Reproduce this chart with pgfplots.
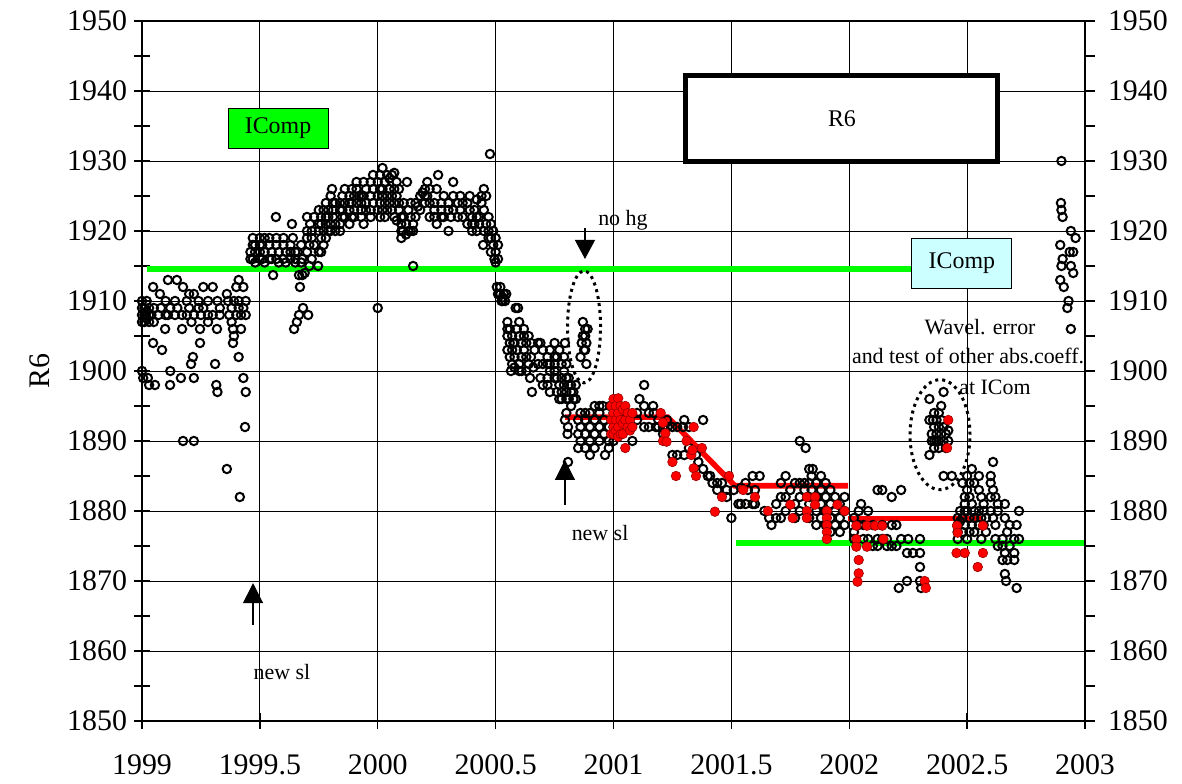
\documentclass[border=0pt]{standalone}
\usepackage{fontspec}
\setmainfont{Liberation Serif}
\usepackage{pgfplots}
\pgfplotsset{compat=1.18}
\usetikzlibrary{arrows.meta}
\definecolor{xgreen}{RGB}{0,255,0}
\definecolor{xcyan}{RGB}{204,255,255}
\definecolor{xred}{RGB}{255,0,0}
\newcommand{\tickfont}{\fontsize{15}{18}\selectfont}
\newcommand{\annfont}{\fontsize{11}{13}\selectfont}
\begin{document}
\begin{tikzpicture}
\path[use as bounding box] (0,0) rectangle (591bp,392bp);
\begin{axis}[
  at={(71bp,31.5bp)}, anchor=south west,
  scale only axis, width=471.5bp, height=350bp,
  xmin=1999, xmax=2003, ymin=1850, ymax=1950,
  xtick={1999,1999.5,2000,2000.5,2001,2001.5,2002,2002.5,2003},
  xticklabels={1999,1999.5,2000,2000.5,2001,2001.5,2002,2002.5,2003},
  ytick={1850,1860,1870,1880,1890,1900,1910,1920,1930,1940,1950},
  minor ytick={1855,1865,1875,1885,1895,1905,1915,1925,1935,1945},
  grid=major, major grid style={black, line width=0.45bp},
  axis line style={line width=1bp},
  tick align=center, major tick length=8bp, minor tick length=8bp,
  tick style={black, line width=0.7bp},
  xtick pos=left, ytick pos=left,
  ticklabel style={font=\tickfont},
  xticklabel style={yshift=-9.5bp},
  /pgf/number format/1000 sep={},
  /pgf/number format/assume math mode=true,
  ylabel={R6},
  ylabel style={font=\tickfont, at={(axis description cs:-0.108,0.5)}, anchor=center},
  clip=false,
]
% black open circles
\addplot[only marks, mark=o, mark size=2.1bp, black, line width=1bp] coordinates {
(1999.00,1907)(1999.00,1908)(1999.00,1909)(1999.00,1910)(1999.00,1900)(1999.005,1899)
(1999.01,1907)(1999.01,1908)(1999.01,1909)(1999.02,1907.5)(1999.02,1908.5)(1999.02,1910)(1999.025,1899)(1999.03,1898)
(1999.03,1907)(1999.03,1908)(1999.03,1909)(1999.04,1908)(1999.047,1912)(1999.047,1904)
(1999.05,1907)(1999.05,1909)(1999.055,1898)(1999.07,1908)(1999.076,1911)(1999.085,1903)
(1999.08,1909)(1999.11,1913)(1999.10,1908)(1999.098,1906)(1999.10,1910)(1999.12,1900)
(1999.11,1908)(1999.119,1898)(1999.12,1909)(1999.148,1913)(1999.14,1908)(1999.14,1910)
(1999.165,1899)(1999.15,1909)(1999.174,1912)(1999.17,1908)(1999.17,1906)(1999.174,1890)
(1999.19,1910)(1999.19,1908)(1999.20,1911)(1999.20,1909)(1999.216,1902)(1999.208,1901)
(1999.21,1907)(1999.22,1911)(1999.22,1908)(1999.22,1899)(1999.22,1890)(1999.24,1910)
(1999.24,1909)(1999.246,1906)(1999.246,1904)(1999.25,1908)(1999.26,1912)(1999.26,1909)
(1999.28,1910)(1999.28,1908)(1999.28,1907)(1999.30,1912)(1999.30,1908)(1999.318,1906)
(1999.31,1901)(1999.315,1898)(1999.32,1897)(1999.32,1910)(1999.33,1908)(1999.33,1909)
(1999.36,1911)(1999.365,1910)(1999.36,1886)(1999.37,1908)(1999.386,1906)(1999.386,1904)
(1999.38,1909)(1999.38,1907)(1999.39,1905)(1999.39,1910)(1999.41,1913)(1999.41,1902)
(1999.40,1912)(1999.40,1908)(1999.415,1882)(1999.41,1910)(1999.41,1909)(1999.42,1906)
(1999.43,1912)(1999.42,1908)(1999.43,1899)(1999.43,1909)(1999.44,1897)(1999.44,1910)
(1999.44,1908)(1999.437,1892)
(1999.46,1916)(1999.46,1917)(1999.47,1916)(1999.47,1918)(1999.47,1919)(1999.48,1915.5)
(1999.48,1917)(1999.48,1918)(1999.50,1916)(1999.50,1917)(1999.50,1919)(1999.50,1918)
(1999.51,1916)(1999.51,1918)(1999.52,1917)(1999.52,1919)(1999.52,1915.5)(1999.54,1916)
(1999.54,1918)(1999.54,1919)(1999.55,1917)(1999.556,1913.7)(1999.55,1916)(1999.57,1918)
(1999.57,1916)(1999.568,1922)(1999.57,1919)(1999.58,1917)(1999.58,1915.5)(1999.60,1916)
(1999.60,1918)(1999.60,1919)(1999.61,1917)(1999.61,1915.5)(1999.63,1918)(1999.63,1916)
(1999.636,1921)(1999.63,1917)(1999.64,1919)(1999.645,1906)(1999.65,1915.5)(1999.65,1916)
(1999.657,1907)(1999.65,1917)(1999.66,1917)(1999.666,1913.7)(1999.67,1912)(1999.666,1908)
(1999.675,1915.5)(1999.675,1918)(1999.68,1913.7)(1999.68,1916)(1999.683,1909)(1999.69,1914)
(1999.70,1922)(1999.70,1917)(1999.705,1908)(1999.70,1919)(1999.70,1920)(1999.71,1915)
(1999.71,1918)(1999.713,1921)(1999.72,1916)(1999.72,1919)(1999.72,1920)(1999.73,1918)
(1999.73,1922)(1999.747,1915)(1999.75,1917)(1999.75,1920)(1999.75,1921)(1999.75,1923)
(1999.76,1917)(1999.76,1919)(1999.76,1921)(1999.76,1922)(1999.77,1918)(1999.77,1920)
(1999.77,1923)(1999.78,1919)(1999.78,1921)(1999.78,1922)(1999.78,1924)(1999.79,1920)
(1999.79,1922)(1999.79,1923)(1999.80,1920)(1999.80,1921)(1999.80,1925)(1999.806,1926)
(1999.81,1922)(1999.81,1923)(1999.81,1924)(1999.82,1921)(1999.82,1920)(1999.82,1924)
(1999.84,1923)(1999.84,1924)(1999.84,1920)(1999.84,1921)(1999.85,1922)(1999.85,1923)
(1999.85,1925)(1999.86,1924)(1999.86,1926)(1999.86,1922)(1999.88,1923)(1999.88,1925)
(1999.88,1924)(1999.88,1921)(1999.89,1922)(1999.89,1924)(1999.89,1926)(1999.90,1923)
(1999.90,1925)(1999.91,1927)(1999.90,1922)(1999.91,1924)(1999.91,1926)(1999.92,1925)
(1999.93,1922)(1999.93,1923)(1999.93,1925)(1999.93,1924)(1999.94,1925)(1999.94,1927)
(1999.94,1921)(1999.95,1923)(1999.95,1926)(1999.95,1924)(1999.97,1922)(1999.97,1925)
(1999.97,1927)(1999.97,1923)(1999.98,1924)(1999.98,1926)(1999.98,1928)(2000.00,1909)
(2000.00,1923)(2000.00,1925)(2000.00,1927)(2000.01,1922)(2000.01,1924)(2000.01,1926)
(2000.01,1928)(2000.02,1929)(2000.02,1926)(2000.02,1923)(2000.02,1925)(2000.03,1924)
(2000.03,1927)(2000.03,1922)(2000.04,1925)(2000.04,1928)(2000.04,1923)(2000.05,1926)
(2000.05,1924)(2000.05,1927.5)(2000.06,1923)(2000.06,1925)(2000.06,1928)(2000.07,1928.3)
(2000.07,1926)(2000.07,1924)(2000.07,1922)(2000.08,1927)(2000.08,1925)(2000.08,1921.5)
(2000.09,1926)(2000.09,1924)(2000.09,1923)(2000.10,1920)(2000.10,1921)(2000.10,1919)
(2000.107,1920)(2000.10,1922)(2000.11,1922)(2000.11,1924)(2000.124,1927)(2000.12,1921)
(2000.12,1919.5)(2000.13,1920)(2000.13,1923)(2000.14,1920)(2000.14,1924)(2000.14,1922)
(2000.15,1915)(2000.15,1920)(2000.15,1921)(2000.16,1924)(2000.16,1922)(2000.17,1923.5)
(2000.18,1923)(2000.18,1925)(2000.19,1925.5)(2000.20,1925)(2000.20,1926)(2000.20,1924)
(2000.21,1927)(2000.21,1925)(2000.22,1924)(2000.22,1926)(2000.22,1922)(2000.24,1923)
(2000.24,1924)(2000.24,1922)(2000.256,1928)(2000.25,1926)(2000.25,1921)(2000.27,1924)
(2000.27,1922)(2000.27,1923)(2000.28,1922)(2000.28,1925)(2000.30,1920)(2000.30,1923)
(2000.30,1924)(2000.31,1922)(2000.32,1927)(2000.32,1923)(2000.32,1925)(2000.34,1924)
(2000.34,1922)(2000.35,1923)(2000.35,1925)(2000.36,1922)(2000.36,1924)(2000.38,1924)
(2000.38,1921)(2000.39,1923)(2000.39,1925)(2000.40,1921)(2000.40,1920)(2000.40,1922)
(2000.41,1923)(2000.41,1921)(2000.42,1920)(2000.42,1922)(2000.42,1924.5)(2000.43,1922)
(2000.43,1921)(2000.44,1925)(2000.44,1924)(2000.447,1918)(2000.45,1926)(2000.45,1923)
(2000.45,1920)(2000.476,1931)(2000.46,1925)(2000.46,1921)(2000.47,1920)(2000.47,1919)
(2000.47,1922)(2000.48,1919)(2000.48,1921)(2000.48,1917)(2000.49,1920)(2000.49,1918)
(2000.495,1916)(2000.50,1917)(2000.50,1919)(2000.50,1915.5)(2000.52,1912)(2000.51,1918)
(2000.51,1916)(2000.51,1911)(2000.505,1912)(2000.52,1911)(2000.525,1910)(2000.53,1910.5)
(2000.535,1911)(2000.53,1910)(2000.54,1910)(2000.545,1911)
(2000.55,1907)(2000.55,1906)(2000.55,1905)(2000.55,1903)(2000.56,1906)(2000.56,1904)
(2000.56,1902)(2000.565,1900)(2000.57,1905)(2000.57,1903)(2000.57,1901)(2000.575,1904)
(2000.58,1904)(2000.58,1902)(2000.58,1900.5)(2000.585,1909)(2000.595,1909)(2000.59,1906)
(2000.59,1903)(2000.60,1907)(2000.60,1905)(2000.60,1900)(2000.60,1901)(2000.61,1904)
(2000.61,1902)(2000.61,1900)(2000.62,1906)(2000.62,1903)(2000.62,1905)(2000.63,1904)
(2000.63,1900)(2000.63,1902)(2000.64,1905)(2000.646,1899)(2000.64,1901)(2000.654,1897)
(2000.65,1904)(2000.65,1902)(2000.66,1900.5)(2000.665,1903)(2000.68,1904)(2000.68,1901)
(2000.69,1904)(2000.69,1899)(2000.70,1901)(2000.70,1903)(2000.70,1898)(2000.72,1901)
(2000.72,1899)(2000.72,1902)(2000.72,1898)(2000.73,1901)(2000.73,1900)(2000.73,1903)
(2000.73,1897)(2000.75,1901)(2000.75,1900)(2000.75,1902)(2000.75,1899)(2000.75,1904)
(2000.76,1902)(2000.76,1899)(2000.76,1897)(2000.77,1903)(2000.77,1898)(2000.77,1896)
(2000.78,1899)(2000.78,1901)(2000.78,1897)(2000.78,1896)(2000.794,1904)(2000.79,1902)
(2000.79,1900)(2000.79,1898)(2000.80,1901)(2000.80,1897)(2000.80,1899)(2000.80,1896)
(2000.80,1894)(2000.794,1893)(2000.81,1899)(2000.81,1898)(2000.81,1896)(2000.807,1892)
(2000.807,1887)(2000.805,1891)(2000.82,1898)(2000.82,1897)(2000.82,1895)(2000.83,1897)
(2000.83,1896)(2000.84,1898)(2000.84,1896)(2000.86,1902)(2000.865,1904)(2000.87,1907)
(2000.87,1905)(2000.875,1903)(2000.88,1905)(2000.88,1906)(2000.885,1904)(2000.89,1906)
(2000.885,1901)(2000.88,1903)
(2000.85,1893)(2000.85,1891)(2000.85,1889)(2000.86,1892)(2000.86,1894)(2000.86,1890)
(2000.88,1894)(2000.88,1893)(2000.88,1891)(2000.88,1889)(2000.90,1894)(2000.90,1892)
(2000.90,1890)(2000.90,1888)(2000.92,1893)(2000.92,1891)(2000.92,1889)(2000.92,1895)
(2000.94,1894)(2000.94,1892)(2000.94,1890)(2000.94,1895)(2000.955,1895)(2000.96,1893)
(2000.96,1891)(2000.964,1888)(2000.985,1895)(2000.98,1892)(2000.98,1890)(2000.98,1889)
(2001.00,1894)(2001.00,1892)(2001.00,1890)(2001.02,1893)(2001.02,1891)(2001.05,1894)
(2001.05,1892)(2001.08,1890)(2001.10,1893)(2001.11,1896)(2001.10,1894)(2001.13,1898)
(2001.13,1895)(2001.13,1892)(2001.15,1894)(2001.15,1892)(2001.168,1895)(2001.17,1894)
(2001.18,1892)(2001.19,1893)(2001.19,1892)(2001.21,1892)(2001.21,1891)(2001.227,1893)
(2001.23,1892)(2001.25,1892)(2001.25,1888)(2001.27,1888)(2001.27,1892)(2001.30,1893)
(2001.30,1888)(2001.295,1892)(2001.32,1892)(2001.32,1889)(2001.35,1888)(2001.36,1887)
(2001.38,1893)(2001.38,1886)(2001.40,1885)(2001.41,1885)(2001.42,1884)(2001.44,1884)
(2001.46,1884)(2001.44,1883)(2001.48,1883)(2001.48,1882)(2001.50,1879)(2001.51,1883)
(2001.53,1881)(2001.54,1883.3)(2001.54,1881)(2001.56,1884)(2001.56,1881)(2001.57,1883)
(2001.59,1885)(2001.59,1881)(2001.60,1881)(2001.60,1883)(2001.62,1885)(2001.64,1880)
(2001.66,1879)(2001.67,1878)(2001.69,1879)(2001.69,1881)(2001.71,1882)(2001.71,1879)
(2001.71,1884)(2001.73,1885)(2001.73,1882)(2001.73,1880)(2001.75,1883)(2001.77,1884)
(2001.77,1881)(2001.77,1879)(2001.79,1890)(2001.79,1884)(2001.79,1882)(2001.79,1880)
(2001.815,1889)(2001.81,1884)(2001.81,1883)(2001.83,1886)(2001.83,1884)(2001.83,1882)
(2001.83,1881)(2001.83,1879)(2001.845,1886)(2001.84,1885)(2001.84,1883)(2001.86,1884)
(2001.86,1882)(2001.86,1880)(2001.86,1878)(2001.88,1883)(2001.88,1881)(2001.88,1879)
(2001.88,1885)(2001.90,1882)(2001.90,1880)(2001.90,1878)(2001.90,1884)(2001.92,1883)
(2001.92,1881)(2001.92,1879)(2001.92,1877)(2001.94,1882)(2001.94,1880)(2001.94,1878)
(2001.96,1881)(2001.96,1879)(2001.96,1877)(2001.98,1882)(2001.98,1880)(2001.98,1878)
(2002.02,1879)(2002.02,1877)(2002.02,1876)(2002.05,1881)(2002.04,1880)(2002.04,1878)
(2002.06,1878)(2002.06,1876)(2002.08,1880)(2002.08,1876)(2002.10,1878)(2002.10,1875)
(2002.12,1883)(2002.12,1876)(2002.12,1875)(2002.14,1883)(2002.14,1878)(2002.14,1876)
(2002.16,1875)(2002.16,1876)(2002.18,1882)(2002.18,1878)(2002.18,1875)(2002.20,1878)
(2002.20,1875)(2002.21,1869)(2002.22,1883)(2002.22,1876)(2002.245,1870)(2002.245,1874)
(2002.25,1876)(2002.27,1874)(2002.30,1876)(2002.30,1874)(2002.30,1872)(2002.30,1870)
(2002.305,1869)
(2002.34,1896)(2002.34,1888)(2002.34,1893)(2002.35,1891)(2002.35,1890)(2002.355,1893)
(2002.36,1894)(2002.36,1892)(2002.36,1890)(2002.36,1889)(2002.37,1893)(2002.37,1891)
(2002.37,1890)(2002.38,1894)(2002.38,1892)(2002.38,1890)(2002.38,1889)(2002.39,1895)
(2002.39,1893)(2002.39,1891)(2002.40,1892)(2002.40,1890)(2002.40,1885)(2002.40,1897)
(2002.41,1891)(2002.41,1889)(2002.42,1891.5)(2002.42,1890)(2002.435,1885)
(2002.46,1879)(2002.46,1878)(2002.46,1877)(2002.46,1876)(2002.47,1880)(2002.47,1878.5)
(2002.48,1884)(2002.48,1879)(2002.48,1877)(2002.49,1882)(2002.49,1881)(2002.49,1880)
(2002.49,1878)(2002.50,1885)(2002.50,1883)(2002.50,1880)(2002.50,1876)(2002.51,1884)
(2002.51,1882)(2002.51,1879)(2002.51,1877)(2002.52,1886)(2002.52,1881)(2002.52,1878)
(2002.53,1884)(2002.53,1880)(2002.53,1879)(2002.53,1877)(2002.55,1885)(2002.55,1883)
(2002.55,1880)(2002.55,1878)(2002.56,1882)(2002.56,1879)(2002.56,1876)(2002.57,1881)
(2002.57,1880)(2002.57,1878)(2002.58,1879)(2002.58,1877)(2002.60,1885)(2002.60,1884)
(2002.60,1882)(2002.60,1880)(2002.61,1887)(2002.61,1883)(2002.61,1879)(2002.62,1882)
(2002.62,1878)(2002.62,1876)(2002.63,1881)(2002.63,1880)(2002.63,1875)(2002.66,1881)
(2002.65,1873)(2002.65,1876)(2002.65,1875)(2002.66,1879)(2002.66,1874)(2002.66,1871)
(2002.67,1877)(2002.67,1873)(2002.665,1870)(2002.68,1878)(2002.68,1875)(2002.70,1876)
(2002.70,1873)(2002.70,1874)(2002.71,1869)(2002.71,1878)(2002.72,1880)(2002.72,1876)
(2002.90,1930)(2002.898,1924)(2002.90,1923)(2002.905,1922)(2002.94,1920)(2002.96,1919)
(2002.895,1918)(2002.935,1917)(2002.95,1917)(2002.905,1916)(2002.90,1915)(2002.94,1915)
(2002.95,1914)(2002.895,1913)(2002.91,1912)(2002.93,1910)(2002.925,1909)(2002.94,1906)
};
% red filled circles
\addplot[only marks, mark=*, mark size=2.4bp, mark options={fill=xred, draw=red!60!black, line width=0.3bp}] coordinates {
(2000.99,1891)(2000.99,1893)(2000.99,1895)(2001.00,1896)(2001.00,1894)(2001.00,1892)
(2001.00,1891)(2001.01,1895)(2001.01,1893)(2001.01,1891.5)(2001.02,1896.1)(2001.02,1894)
(2001.02,1892)(2001.02,1890.6)(2001.03,1895)(2001.03,1893)(2001.03,1891)(2001.04,1894.5)
(2001.04,1892.5)(2001.04,1891)(2001.05,1895)(2001.05,1893)(2001.05,1889)(2001.06,1894)
(2001.06,1892)(2001.07,1893)(2001.07,1891.5)(2001.08,1894)(2001.08,1892)
(2001.20,1894)(2001.21,1892.6)(2001.21,1890)(2001.22,1891.1)(2001.225,1889.9)(2001.25,1887)
(2001.265,1885)(2001.31,1890)(2001.33,1888)(2001.335,1888.7)(2001.34,1892)(2001.34,1886.1)
(2001.35,1885)(2001.375,1889)(2001.43,1879.9)(2001.46,1882)(2001.49,1885)
(2001.55,1883)(2001.60,1882)(2001.655,1880)(2001.75,1880.9)(2001.76,1879)(2001.82,1882)
(2001.82,1880)(2001.82,1879)(2001.855,1882)(2001.855,1880.9)(2001.905,1880)(2001.905,1879)
(2001.905,1878)(2001.905,1877)(2001.905,1876)(2001.95,1880.9)(2001.98,1880)
(2002.03,1877.9)(2002.03,1876)(2002.03,1874.9)(2002.04,1873)(2002.04,1871.1)(2002.035,1869.9)
(2002.075,1877.9)(2002.075,1874.9)(2002.11,1877.9)(2002.14,1877.9)(2002.145,1876)
(2002.32,1870)(2002.325,1869)(2002.415,1889)(2002.42,1893)(2002.457,1877.9)(2002.46,1876.9)
(2002.455,1874)(2002.49,1874)(2002.545,1872)(2002.567,1877.9)(2002.567,1874)
};
% green reference lines
\addplot[xgreen, line width=3bp, no marks] coordinates {(1999.02,1914.5) (2002.38,1914.5)};
\addplot[xgreen, line width=3bp, no marks] coordinates {(2001.52,1875.4) (2003,1875.4)};
% red fit lines
\addplot[xred, line width=2.8bp, no marks] coordinates {(2000.795,1893.4) (2001.23,1893.4) (2001.515,1883.6) (2001.995,1883.6)};
\addplot[xred, line width=2.8bp, no marks] coordinates {(2001.995,1878.9) (2002.567,1878.9)};
% annotations
\node[draw=black, fill=xgreen, line width=0.5bp, minimum width=50bp, minimum height=20bp, font=\fontsize{12}{14}\selectfont] at (axis cs:1999.577,1934.7) {IComp};
\node[draw=black, fill=white, line width=2.5bp, minimum width=156bp, minimum height=43bp, font=\fontsize{12}{14}\selectfont] at (axis cs:2001.969,1936) {R6};
\node[draw=black, fill=xcyan, line width=0.5bp, minimum width=50bp, minimum height=25bp, font=\fontsize{12}{14}\selectfont] at (axis cs:2002.478,1915.4) {IComp};
\node[font=\annfont] at (axis cs:2001.04,1921.6) {no hg};
\draw[-{Triangle[width=10bp,length=9.5bp]}, line width=0.6bp] (axis cs:2000.879,1920.4) -- (axis cs:2000.879,1916);
\node[font=\annfont] at (axis cs:2000.943,1876.9) {new sl};
\draw[-{Triangle[width=10bp,length=10bp]}, line width=0.6bp] (axis cs:2000.794,1880.9) -- (axis cs:2000.794,1887.3);
\node[font=\annfont] at (axis cs:1999.594,1857) {new sl};
\draw[-{Triangle[width=10bp,length=10bp]}, line width=0.6bp] (axis cs:1999.471,1863.7) -- (axis cs:1999.471,1869.7);
\draw[line width=1.5bp, dash pattern=on 1.5bp off 2bp] (axis cs:2000.875,1906.3) ellipse [x radius=8.25bp, y radius=28bp];
\draw[line width=1.5bp, dash pattern=on 1.5bp off 2bp] (axis cs:2002.385,1890.9) ellipse [x radius=15bp, y radius=27.5bp];
\node[font=\annfont] at (axis cs:2002.555,1906.3) {Wavel. error};
\node[font=\annfont] at (axis cs:2002.504,1902.1) {and test of other abs.coeff.};
\node[font=\annfont] at (axis cs:2002.618,1897.6) {at ICom};
\end{axis}
\begin{axis}[
  at={(71bp,31.5bp)}, anchor=south west,
  scale only axis, width=471.5bp, height=350bp,
  xmin=1999, xmax=2003, ymin=1850, ymax=1950,
  axis y line*=right, axis x line=none,
  axis line style={-, line width=1bp},
  ytick={1850,1860,1870,1880,1890,1900,1910,1920,1930,1940,1950},
  minor ytick={1855,1865,1875,1885,1895,1905,1915,1925,1935,1945},
  tick align=outside, major tick length=5bp, minor tick length=5bp,
  tick style={black, line width=0.7bp},
  yticklabel style={font=\tickfont, xshift=3bp},
  /pgf/number format/1000 sep={},
  /pgf/number format/assume math mode=true,
]
\addplot[draw=none, forget plot] coordinates {(1999,1850)};
\end{axis}
\end{tikzpicture}
\end{document}
